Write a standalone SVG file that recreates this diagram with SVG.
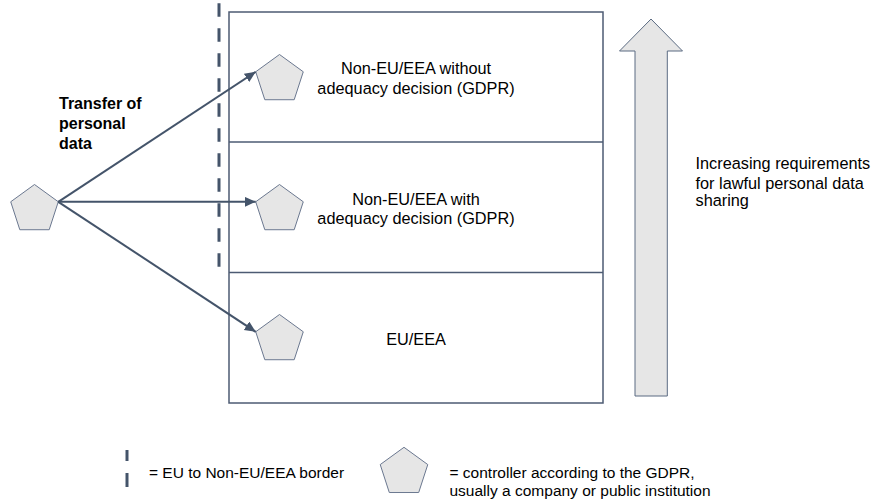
<svg xmlns="http://www.w3.org/2000/svg" width="872" height="502" viewBox="0 0 872 502">
  <defs>
    <style>
      .txt { font-family: "Liberation Sans", Arial, sans-serif; font-size: 16.3px; fill: #000; }
      .bold { font-weight: bold; font-size: 16px; }
      .leg { font-size: 15.5px; }
      .pent { fill: #e6e6e6; stroke: #6b7890; stroke-width: 1; }
      .box { fill: #ffffff; stroke: #4d5b73; stroke-width: 1.5; }
      .div { stroke: #4d5b73; stroke-width: 1.3; fill: none; }
      .conn { stroke: #44546a; stroke-width: 2; fill: none; }
      .border { stroke: #44546a; stroke-width: 3; fill: none; }
    </style>
    <marker id="ah" markerUnits="userSpaceOnUse" markerWidth="13" markerHeight="11" refX="11" refY="5" orient="auto">
      <path d="M0,0 L11,5 L0,10 z" fill="#44546a"/>
    </marker>
    <polygon id="pg" points="0,-25 23.78,-7.73 14.69,20.23 -14.69,20.23 -23.78,-7.73"/>
  </defs>
  <rect width="872" height="502" fill="#ffffff"/>

  <g id="zones">
    <rect class="box" x="229" y="12" width="374" height="391"/>
    <line class="div" x1="229" y1="142" x2="603" y2="142"/>
    <line class="div" x1="229" y1="272.5" x2="603" y2="272.5"/>
    <text class="txt" x="416" y="74" text-anchor="middle">Non-EU/EEA without</text>
    <text class="txt" x="416" y="93.5" text-anchor="middle">adequacy decision (GDPR)</text>
    <text class="txt" x="416" y="204.5" text-anchor="middle">Non-EU/EEA with</text>
    <text class="txt" x="416" y="224" text-anchor="middle">adequacy decision (GDPR)</text>
    <text class="txt" x="416" y="344.5" text-anchor="middle">EU/EEA</text>
  </g>

  <g id="border">
    <line class="border" x1="219" y1="3.3" x2="219" y2="268.3" stroke-dasharray="13.5 11.5"/>
  </g>

  <g id="source">
    <use href="#pg" class="pent" x="34.5" y="209.5"/>
  </g>
  <g id="ctrl-noadequacy">
    <use href="#pg" class="pent" x="279.5" y="79.5"/>
  </g>
  <g id="ctrl-adequacy">
    <use href="#pg" class="pent" x="279.5" y="209.5"/>
  </g>
  <g id="ctrl-eu">
    <use href="#pg" class="pent" x="279.5" y="339.5"/>
  </g>

  <g id="label-transfer">
    <text class="txt bold" x="59" y="108.5">Transfer of</text>
    <text class="txt bold" x="59" y="128.5">personal</text>
    <text class="txt bold" x="59" y="148.5">data</text>
  </g>

  <g id="connectors">
    <line class="conn" x1="58.3" y1="201.8" x2="255.7" y2="71.8" marker-end="url(#ah)"/>
    <line class="conn" x1="58.3" y1="201.8" x2="255.7" y2="201.8" marker-end="url(#ah)"/>
    <line class="conn" x1="58.3" y1="201.8" x2="255.7" y2="331.8" marker-end="url(#ah)"/>
  </g>

  <g id="increase-arrow">
    <polygon points="651,19 682.5,51 667.3,51 667.3,396 635,396 635,51 619.5,51" fill="#e6e6e6" stroke="#5b6b82" stroke-width="1"/>
    <text class="txt" x="695.5" y="168.5">Increasing requirements</text>
    <text class="txt" x="695.5" y="188.5">for lawful personal data</text>
    <text class="txt" x="695.5" y="206">sharing</text>
  </g>

  <g id="legend">
    <line class="border" x1="127" y1="450" x2="127" y2="461"/>
    <line class="border" x1="127" y1="473" x2="127" y2="487"/>
    <text class="txt leg" x="149" y="477.5">= EU to Non-EU/EEA border</text>
    <use href="#pg" class="pent" x="404" y="472.3"/>
    <text class="txt leg" x="449.5" y="477.5">= controller according to the GDPR,</text>
    <text class="txt leg" x="449.5" y="495.5">usually a company or public institution</text>
  </g>
</svg>
